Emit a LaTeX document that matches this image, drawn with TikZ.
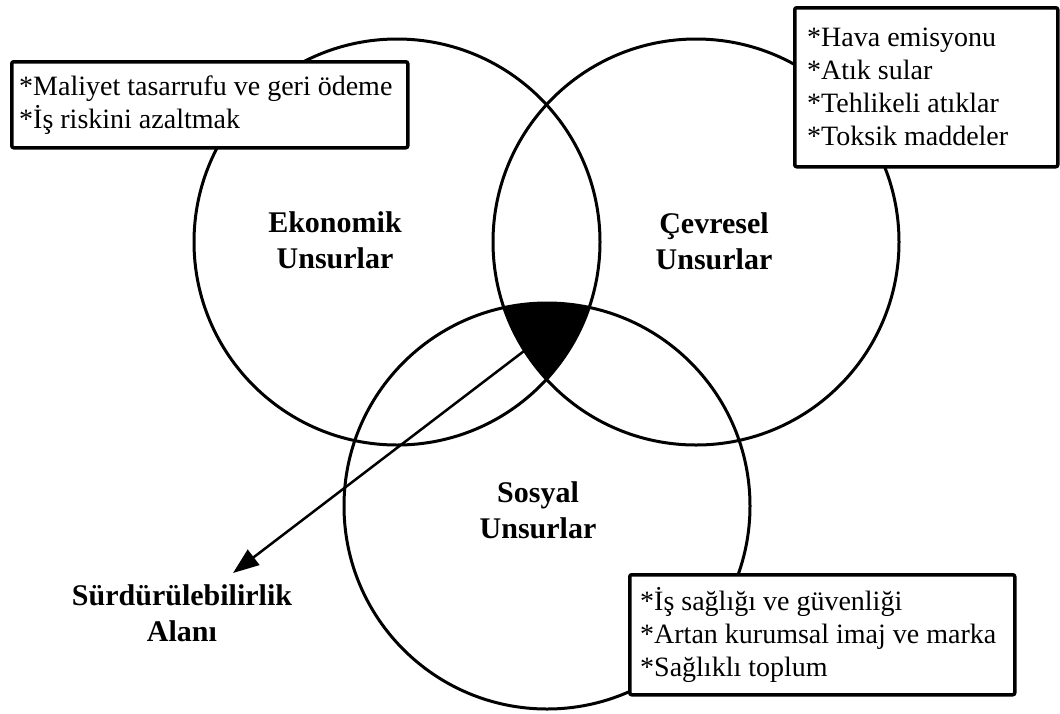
\documentclass[tikz,border=0pt]{standalone}
\usepackage{fontspec}
\setmainfont{Liberation Serif}
\usetikzlibrary{arrows.meta}
\begin{document}
\begin{tikzpicture}[x=1pt,y=-1pt,
  ring/.style={circle, draw, line width=3pt, minimum size=406pt, inner sep=0pt},
  tbox/.style={draw, line width=3.5pt, rounded corners=2pt, fill=white, anchor=north west, inner sep=0pt},
  btext/.style={anchor=west, align=left, inner sep=0pt, font=\fontsize{28}{33}\selectfont},
  lbl/.style={align=center, font=\fontsize{30}{36}\selectfont\bfseries},
  pointer/.style={line width=2.5pt, -{Triangle[length=26pt,width=19pt]}}]
\useasboundingbox (0,0) rectangle (1060,713);
\node[ring] (eko) at (397,242) {};
\node[ring] (cev) at (696,242) {};
\node[ring] (sos) at (547,506) {};
\begin{scope}
  \clip (397,242) circle[radius=203pt];
  \clip (696,242) circle[radius=203pt];
  \fill (547,506) circle[radius=203pt];
\end{scope}
\node[tbox, minimum width=396pt, minimum height=86pt] (ekobox) at (10,60) {};
\node[btext] (ekotxt) at ([xshift=9pt]ekobox.west)
  {*Maliyet tasarrufu ve geri ödeme\\{*}İş riskini azaltmak};
\node[tbox, minimum width=263pt, minimum height=159pt] (cevbox) at (793,6) {};
\node[btext] (cevtxt) at ([xshift=14pt]cevbox.west)
  {*Hava emisyonu\\{*}Atık sular\\{*}Tehlikeli atıklar\\{*}Toksik maddeler};
\node[tbox, minimum width=385pt, minimum height=120pt] (sosbox) at (628,573) {};
\node[btext] (sostxt) at ([xshift=12pt]sosbox.west)
  {*İş sağlığı ve güvenliği\\{*}Artan kurumsal imaj ve marka\\{*}Sağlıklı toplum};
\node[lbl] (ekol) at (335,240) {Ekonomik\\Unsurlar};
\node[lbl] (cevl) at (714,241) {Çevresel\\Unsurlar};
\node[lbl] (sosl) at (538,510) {Sosyal\\Unsurlar};
\node[lbl] (alan) at (182,613) {Sürdürülebilirlik\\Alanı};
\coordinate (core) at (545,335);
\coordinate (tip) at (233,573);
\draw[pointer] (core) -- (tip);
\end{tikzpicture}
\end{document}
